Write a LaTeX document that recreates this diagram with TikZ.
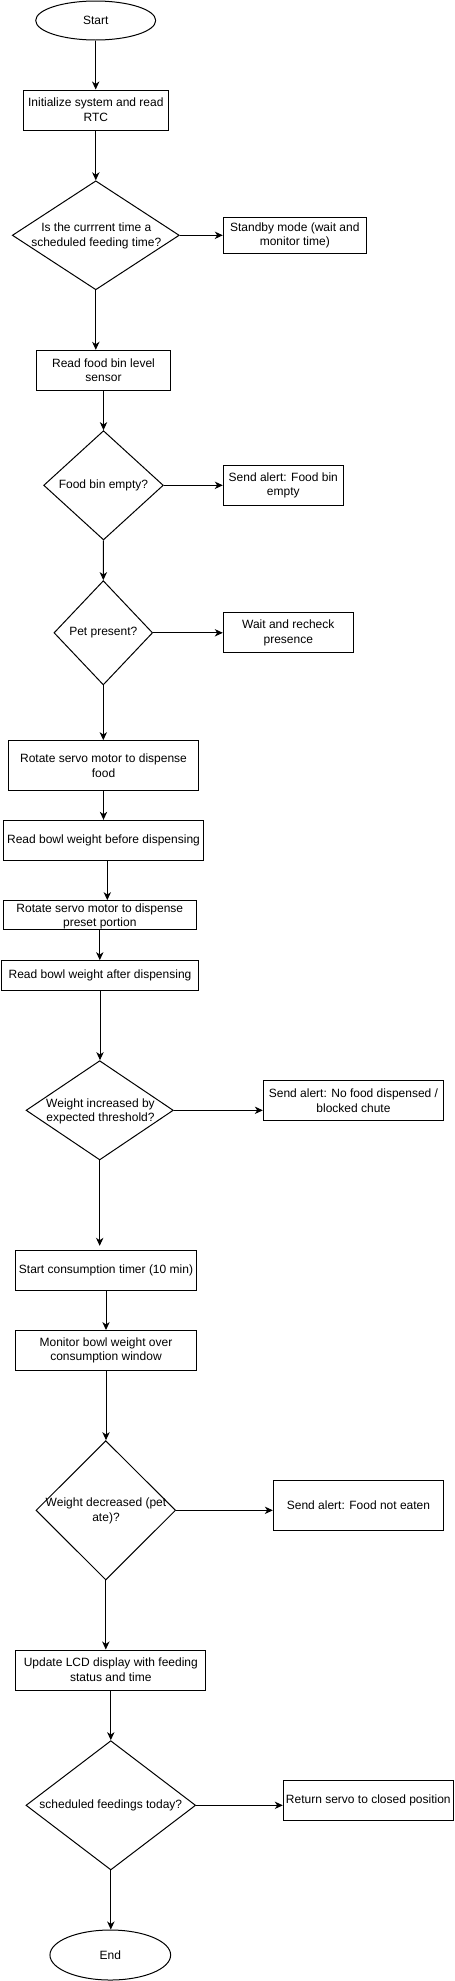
\documentclass[tikz,border=0pt]{standalone}
\usepackage{fontspec}
\setmainfont{Liberation Sans}
\usetikzlibrary{shapes.geometric,arrows.meta,calc}
\newdimen\pxu \pxu=0.75pt
\tikzset{
  every node/.style={font=\fontsize{9}{11}\selectfont},
  flowbox/.style={draw, rectangle, line width=0.75pt, inner sep=0pt, align=center},
  decision/.style={draw, diamond, line width=0.75pt, inner sep=0pt},
  terminal/.style={draw, ellipse, line width=0.75pt, inner sep=0pt},
  label/.style={align=center, inner sep=0pt},
  conn/.style={line width=0.75pt, -{Stealth[length=6pt,width=5.5pt,inset=1.8pt]}}
}
\begin{document}
\begin{tikzpicture}[x=0.75pt,y=-0.75pt]
\useasboundingbox (0,0) rectangle (454,1981);
\fill[white] (0,0) rectangle (454,1981);

\node[terminal, minimum width=120\pxu, minimum height=39\pxu] (start) at (95.7,20.5) {Start};
\node[flowbox, minimum width=145\pxu, minimum height=40\pxu] (init) at (95.8,110) {Initialize system and read\\RTC};
\node[decision, minimum width=167\pxu, minimum height=109\pxu] (d1) at (95.8,235.3) {};
\node[label] (d1t) at (96.3,236) {Is the currrent time a\\scheduled feeding time?};
\node[flowbox, minimum width=143\pxu, minimum height=35.6\pxu] (standby) at (294.8,235.5) {Standby mode (wait and\\monitor time)};
\node[flowbox, minimum width=134\pxu, minimum height=40\pxu] (readbin) at (103.5,370.3) {Read food bin level\\sensor};
\node[decision, minimum width=119.7\pxu, minimum height=109.3\pxu] (d2) at (103.5,485.3) {};
\node[label] (d2t) at (103.5,485.3) {Food bin empty?};
\node[flowbox, minimum width=120\pxu, minimum height=40\pxu] (alert1) at (283.3,485.3) {Send alert: Food bin\\empty};
\node[decision, minimum width=98.7\pxu, minimum height=104.3\pxu] (d3) at (103.3,632.8) {};
\node[label] (d3t) at (103.3,632.8) {Pet present?};
\node[flowbox, minimum width=130\pxu, minimum height=40.3\pxu] (wait) at (288.3,632.8) {Wait and recheck\\presence};
\node[flowbox, minimum width=190.3\pxu, minimum height=49.7\pxu] (rotate) at (103.5,765.5) {Rotate servo motor to dispense\\food};
\node[flowbox, minimum width=200.3\pxu, minimum height=40\pxu] (before) at (103.5,840.3) {Read bowl weight before dispensing};
\node[flowbox, minimum width=193\pxu, minimum height=29.3\pxu] (preset) at (99.8,915.3) {};
\node[label] (presett) at (99.8,916.3) {Rotate servo motor to dispense\\preset portion};
\node[flowbox, minimum width=197.3\pxu, minimum height=29.7\pxu] (after) at (100,975.5) {Read bowl weight after dispensing};
\node[decision, minimum width=147.3\pxu, minimum height=99.3\pxu] (d4) at (99.7,1110.3) {};
\node[label] (d4t) at (100.5,1111.5) {Weight increased by\\expected threshold?};
\node[flowbox, minimum width=180.3\pxu, minimum height=39.7\pxu] (alert2) at (353.5,1100.5) {Send alert: No food dispensed /\\blocked chute};
\node[flowbox, minimum width=180.7\pxu, minimum height=40\pxu] (timer) at (106,1270.3) {Start consumption timer (10 min)};
\node[flowbox, minimum width=180.7\pxu, minimum height=40\pxu] (monitor) at (106,1350.5) {Monitor bowl weight over\\consumption window};
\node[decision, minimum width=139.7\pxu, minimum height=139.3\pxu] (d5) at (105.8,1510.3) {};
\node[label] (d5t) at (106,1511) {Weight decreased (pet\\ate)?};
\node[flowbox, minimum width=170.3\pxu, minimum height=50\pxu] (alert3) at (358.5,1505.3) {Send alert: Food not eaten};
\node[flowbox, minimum width=190.3\pxu, minimum height=40\pxu] (update) at (110.8,1670) {Update LCD display with feeding\\status and time};
\node[decision, minimum width=169.7\pxu, minimum height=129.3\pxu] (d6) at (110.8,1805.3) {};
\node[label] (d6t) at (110.8,1805.3) {scheduled feedings today?};
\node[flowbox, minimum width=170\pxu, minimum height=39.7\pxu] (ret) at (368.3,1800.2) {Return servo to closed position};
\node[terminal, minimum width=120.7\pxu, minimum height=50\pxu] (end) at (110.3,1955) {End};

\coordinate (bp) at ($(before.south)+(3.8,0)$);
\coordinate (tp) at ($(d4.south |- timer.north)+(0,-4)$);

\draw[conn] (start.south) -- (start.south |- init.north);
\draw[conn] (init.south) -- (init.south |- d1.north);
\draw[conn] (d1.east) -- (d1.east -| standby.west);
\draw[conn] (d1.south) -- (d1.south |- readbin.north);
\draw[conn] (readbin.south) -- (d2.north);
\draw[conn] (d2.east) -- (d2.east -| alert1.west);
\draw[conn] (d2.south) -- (d3.north);
\draw[conn] (d3.east) -- (d3.east -| wait.west);
\draw[conn] (d3.south) -- (d3.south |- rotate.north);
\draw[conn] (rotate.south) -- (rotate.south |- before.north);
\draw[conn] (bp) -- (bp |- preset.north);
\draw[conn] (preset.south) -- (preset.south |- after.north);
\draw[conn] (after.south) -- (after.south |- d4.north);
\draw[conn] (d4.east) -- (d4.east -| alert2.west);
\draw[conn] (d4.south) -- (tp);
\draw[conn] (timer.south) -- (timer.south |- monitor.north);
\draw[conn] (monitor.south) -- (monitor.south |- d5.north);
\draw[conn] (d5.east) -- (d5.east -| alert3.west);
\draw[conn] (d5.south) -- (d5.south |- update.north);
\draw[conn] (update.south) -- (update.south |- d6.north);
\draw[conn] (d6.east) -- (d6.east -| ret.west);
\draw[conn] (d6.south) -- (d6.south |- end.north);
\end{tikzpicture}
\end{document}
